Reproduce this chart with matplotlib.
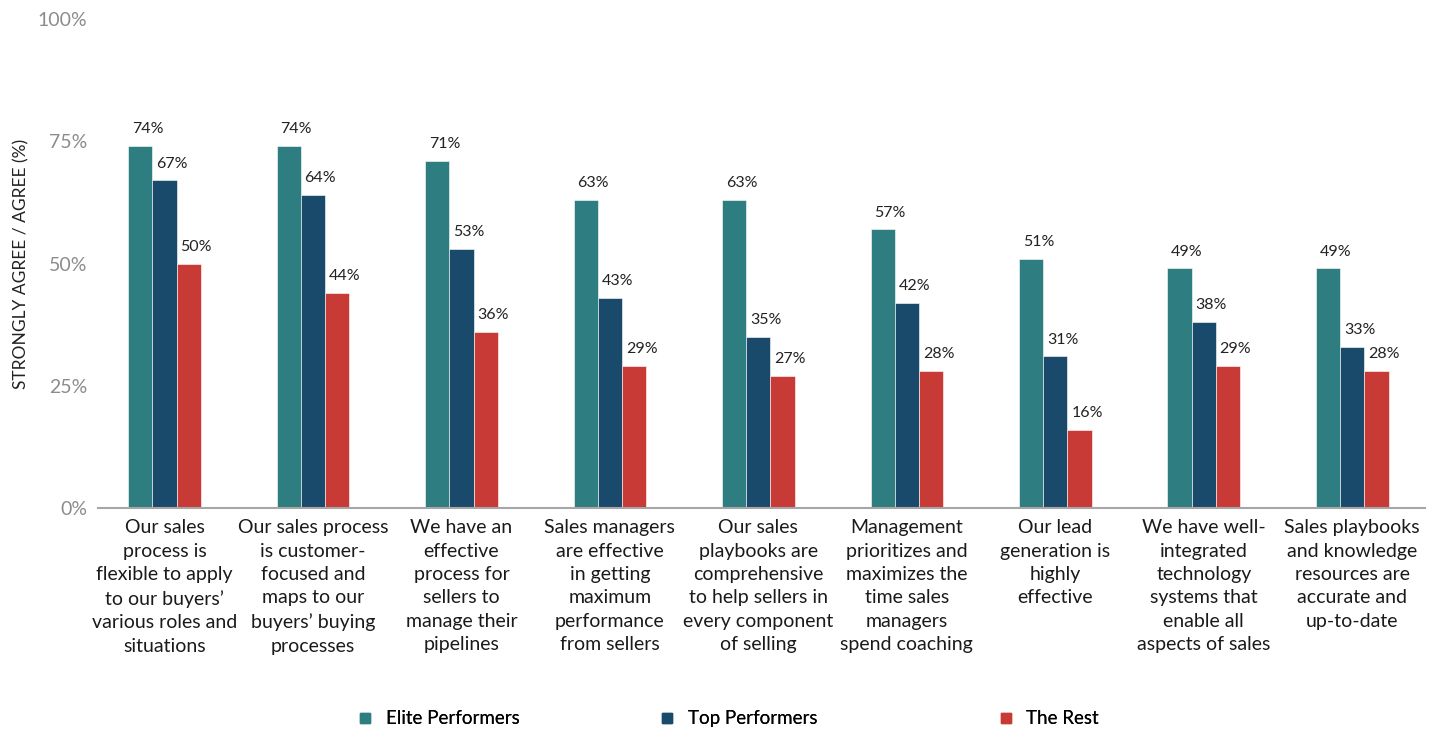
import numpy as np
import matplotlib.pyplot as plt
from matplotlib.lines import Line2D

plt.rcParams['font.family'] = ['Lato', 'DejaVu Sans']

# survey statements (wrapped as they appear under the axis)
categories = [
    "Our sales\nprocess is\nflexible to apply\nto our buyers\u2019\nvarious roles and\nsituations",
    "Our sales process\nis customer-\nfocused and\nmaps to our\nbuyers\u2019 buying\nprocesses",
    "We have an\neffective\nprocess for\nsellers to\nmanage their\npipelines",
    "Sales managers\nare effective\nin getting\nmaximum\nperformance\nfrom sellers",
    "Our sales\nplaybooks are\ncomprehensive\nto help sellers in\nevery component\nof selling",
    "Management\nprioritizes and\nmaximizes the\ntime sales\nmanagers\nspend coaching",
    "Our lead\ngeneration is\nhighly\neffective",
    "We have well-\nintegrated\ntechnology\nsystems that\nenable all\naspects of sales",
    "Sales playbooks\nand knowledge\nresources are\naccurate and\nup-to-date",
]

elite = [74, 74, 71, 63, 63, 57, 51, 49, 49]
top = [67, 64, 53, 43, 35, 42, 31, 38, 33]
rest = [50, 44, 36, 29, 27, 28, 16, 29, 28]

series_names = ['Elite Performers', 'Top Performers', 'The Rest']
colors = ['#2e7d80', '#1a4a6b', '#c73a35']

fig = plt.figure(figsize=(14.29, 7.31), dpi=100)
ax = fig.add_axes([0.0686, 0.305, 0.9286, 0.669])

x = np.arange(len(categories))
w = 0.163

for i, (vals, col) in enumerate(zip([elite, top, rest], colors)):
    pos = x + (i - 1) * w
    ax.bar(pos, vals, width=w, color=col, edgecolor='white', linewidth=0.4)
    for p, v in zip(pos, vals):
        ax.text(p + 0.05, v + 2.0, f"{v}%", ha='center', va='bottom',
                fontsize=11.5, color='#222222')

ax.set_xlim(-0.448, 8.49)
ax.set_ylim(0, 100)
ax.set_yticks([0, 25, 50, 75, 100])
ax.set_yticklabels(['0%', '25%', '50%', '75%', '100%'])
ax.tick_params(axis='y', length=0, labelsize=14, labelcolor='#8c8c8c', pad=8)
ax.set_xticks(x)
ax.set_xticklabels(categories, fontsize=14, color='#1a1a1a', linespacing=1.46)
ax.tick_params(axis='x', length=0, pad=8)

for side in ['top', 'right', 'left']:
    ax.spines[side].set_visible(False)
ax.spines['bottom'].set_color('#a6a6a6')
ax.spines['bottom'].set_linewidth(1.5)

ax.set_ylabel('STRONGLY AGREE / AGREE (%)', fontsize=12.5, color='#222222')
ax.yaxis.set_label_coords(-0.052, 0.5)

# legend entries placed separately so the gaps follow the layout
legend_x = [0.236, 0.447, 0.684]
for name, col, lx in zip(series_names, colors, legend_x):
    h = Line2D([], [], marker='s', linestyle='none', markersize=7, color=col)
    leg = fig.legend([h], [name], loc='center left', bbox_to_anchor=(lx, 0.017),
                     frameon=False, fontsize=13.5, handletextpad=0.5,
                     handlelength=1.2)
    fig.add_artist(leg)

fig.savefig('out.png', dpi=100)
